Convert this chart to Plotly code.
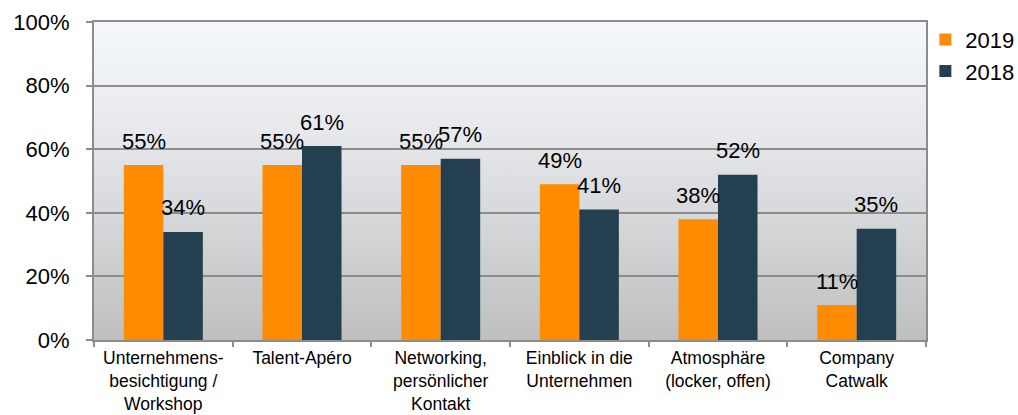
import base64
import plotly.graph_objects as go

categories = [
    "Unternehmens-<br>besichtigung /<br>Workshop",
    "Talent-Apéro",
    "Networking,<br>persönlicher<br>Kontakt",
    "Einblick in die<br>Unternehmen",
    "Atmosphäre<br>(locker, offen)",
    "Company<br>Catwalk",
]
values_2019 = [0.55, 0.55, 0.55, 0.49, 0.38, 0.11]
values_2018 = [0.34, 0.61, 0.57, 0.41, 0.52, 0.35]
series_names = ["2019", "2018"]
colors = ["#FF8C00", "#243F50"]

W, H = 1018, 415
L, R, T, B = 94, 92, 22, 75
bargap = 0.43

fig = go.Figure()
for name, vals, col in zip(series_names, [values_2019, values_2018], colors):
    fig.add_trace(go.Bar(x=categories, y=vals, name=name, marker_color=col,
                         marker_line_width=0))

# data labels as annotations
plot_w = W - L - R
bw = plot_w / len(categories) * (1 - bargap) / 2
for i, vals in enumerate([values_2019, values_2018]):
    shift = -bw / 2 if i == 0 else bw / 2
    for c, v in zip(categories, vals):
        fig.add_annotation(x=c, y=v, text=f"{round(v*100)}%", showarrow=False,
                           xshift=shift, yshift=24, yanchor="middle",
                           font=dict(size=22, color="#000000"))

svg = ('<svg xmlns="http://www.w3.org/2000/svg" width="10" height="100" '
       'preserveAspectRatio="none"><defs><linearGradient id="g" x1="0" y1="0" x2="0" y2="1">'
       '<stop offset="0" stop-color="#f5f8fc"/><stop offset="0.35" stop-color="#e6e8ec"/>'
       '<stop offset="1" stop-color="#bfbfbf"/></linearGradient></defs>'
       '<rect width="10" height="100" fill="url(#g)"/></svg>')
src = "data:image/svg+xml;base64," + base64.b64encode(svg.encode()).decode()

fig.update_layout(
    width=W, height=H,
    margin=dict(l=L, r=R, t=T, b=B, pad=0, autoexpand=False),
    paper_bgcolor="white", plot_bgcolor="rgba(0,0,0,0)",
    barmode="group", bargap=bargap, bargroupgap=0,
    font=dict(family="Liberation Sans, Arial, sans-serif", color="#000000"),
    showlegend=True,
    legend=dict(xref="container", yref="container", x=0.909, y=0.955,
                xanchor="left", yanchor="top",
                font=dict(size=22), bgcolor="rgba(0,0,0,0)",
                itemwidth=30, tracegroupgap=0),
    images=[dict(source=src, xref="paper", yref="paper", x=0, y=1,
                 sizex=1, sizey=1, xanchor="left", yanchor="top",
                 sizing="stretch", layer="below")],
)
fig.update_xaxes(
    type="category", tickson="boundaries", ticks="outside", ticklen=5,
    tickcolor="#8c8c8c", tickwidth=2, automargin=False,
    showline=True, linecolor="#8c8c8c", linewidth=2, mirror=True,
    showgrid=False, tickfont=dict(size=17.5), ticklabelstandoff=1,
)
fig.update_yaxes(
    range=[0, 1], dtick=0.2, tickformat=".0%", automargin=False,
    ticks="outside", ticklen=6, tickcolor="#8c8c8c", tickwidth=2,
    showline=True, linecolor="#8c8c8c", linewidth=2, mirror=True,
    showgrid=True, gridcolor="#8c8c8c", gridwidth=2,
    zeroline=False, tickfont=dict(size=22), ticklabelstandoff=12,
)

fig.write_html("out.html", config={"displayModeBar": False},
               post_script="document.body.style.margin='0';")
